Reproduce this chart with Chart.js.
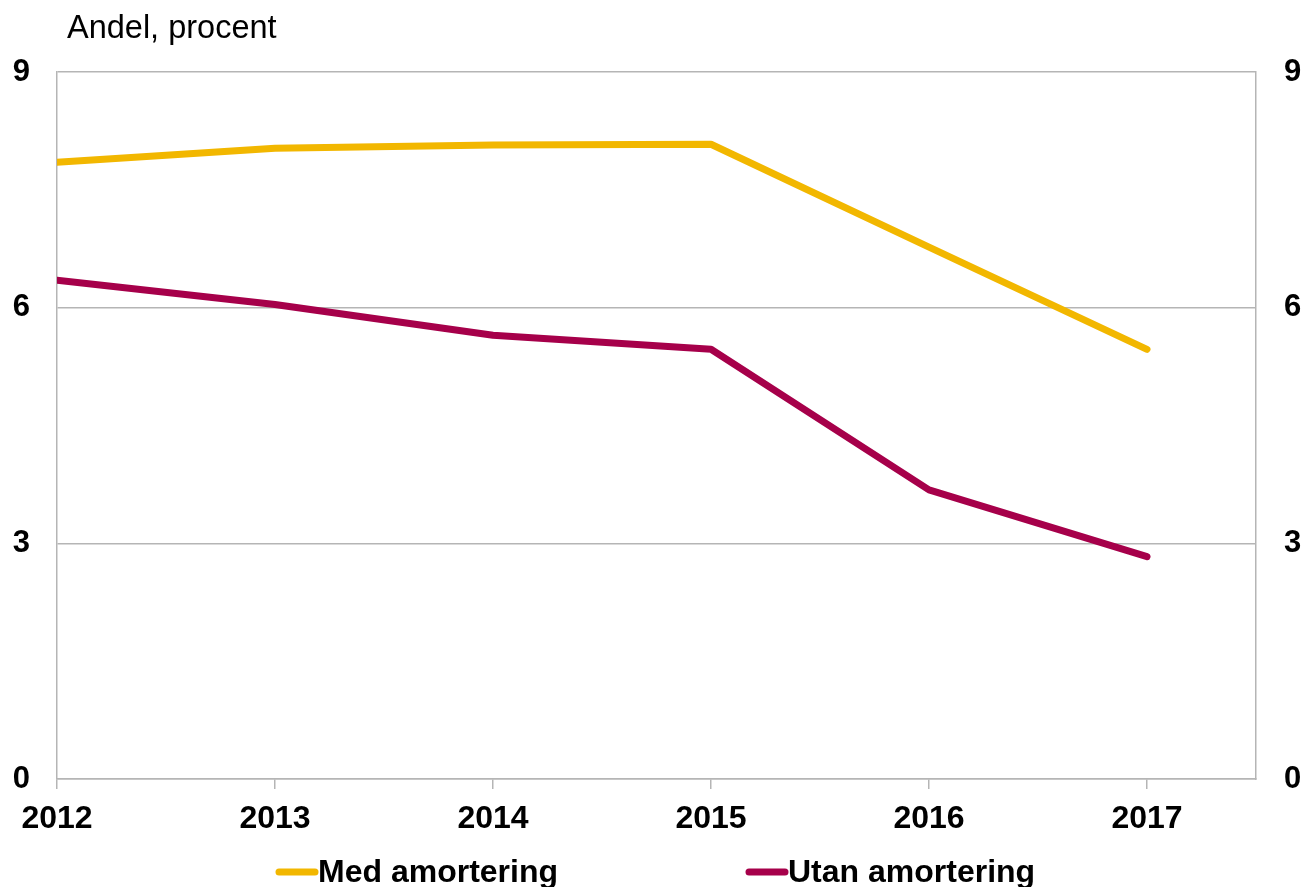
<!DOCTYPE html>
<html>
<head>
<meta charset="utf-8">
<script src="https://cdn.jsdelivr.net/npm/chart.js@4"></script>
<style>
html,body{margin:0;padding:0;background:#fff;}
#wrap{width:1305px;height:887px;position:relative;}
</style>
</head>
<body>
<div id="wrap"><canvas id="c" width="1305" height="887"></canvas></div>
<script>
const years = [2012, 2013, 2014, 2015, 2016, 2017];
const medAmortering = [7.85, 8.03, 8.07, 8.08, 6.77, 5.47];
const utanAmortering = [6.35, 6.04, 5.65, 5.47, 3.68, 2.83];
const yTicks = [0, 3, 6, 9];
const seriesLabels = ['Med amortering', 'Utan amortering'];
const titleText = 'Andel, procent';

const YELLOW = '#F2B700';
const MAROON = '#A6004A';
const GRID = '#b5b5b5';
const FONT = '"Liberation Sans", Arial, sans-serif';

const toPts = (vals) => years.map((y, i) => ({x: y, y: vals[i]}));

const overlay = {
  id: 'overlay',
  afterDraw(chart) {
    const ctx = chart.ctx;
    ctx.save();
    ctx.fillStyle = '#000';
    ctx.font = '32.5px ' + FONT;
    ctx.textBaseline = 'alphabetic';
    ctx.textAlign = 'left';
    ctx.fillText(titleText, 67, 38);
    // legend
    const items = [
      {x: 277, color: YELLOW, label: chart.data.datasets[0].label},
      {x: 747, color: MAROON, label: chart.data.datasets[1].label}
    ];
    const ly = 872;
    items.forEach(it => {
      ctx.strokeStyle = it.color;
      ctx.lineWidth = 7;
      ctx.lineCap = 'round';
      ctx.beginPath();
      ctx.moveTo(it.x + 2, ly);
      ctx.lineTo(it.x + 38, ly);
      ctx.stroke();
      ctx.fillStyle = '#000';
      ctx.font = 'bold 32px ' + FONT;
      ctx.textBaseline = 'middle';
      ctx.fillText(it.label, it.x + 41, ly + 1);
    });
    ctx.restore();
  }
};

new Chart(document.getElementById('c'), {
  type: 'line',
  data: {
    datasets: [
      {label: seriesLabels[0], data: toPts(medAmortering), borderColor: YELLOW, backgroundColor: YELLOW,
       borderWidth: 7, pointRadius: 0, tension: 0, borderCapStyle: 'round', borderJoinStyle: 'round', yAxisID: 'y'},
      {label: seriesLabels[1], data: toPts(utanAmortering), borderColor: MAROON, backgroundColor: MAROON,
       borderWidth: 7, pointRadius: 0, tension: 0, borderCapStyle: 'round', borderJoinStyle: 'round', yAxisID: 'y'}
    ]
  },
  options: {
    responsive: false,
    animation: false,
    devicePixelRatio: 1,
    layout: {padding: {top: 72, left: 0, right: 0, bottom: 0}},
    plugins: {legend: {display: false}, title: {display: false}, tooltip: {enabled: false}},
    scales: {
      x: {
        type: 'linear', min: 2012, max: 2017.5,
        afterBuildTicks: (s) => { s.ticks = years.map(v => ({value: v})); },
        afterFit: (s) => { s.height = 108; },
        grid: {drawOnChartArea: false, drawTicks: true, tickLength: 10, color: GRID, lineWidth: 1.5},
        border: {display: true, color: GRID, width: 1.5},
        ticks: {color: '#000', font: {family: FONT, size: 32, weight: 'bold'}, padding: 11, maxRotation: 0,
                callback: (v) => String(v)}
      },
      y: {
        position: 'left', min: 0, max: 9,
        afterBuildTicks: (s) => { s.ticks = yTicks.map(v => ({value: v})); },
        afterFit: (s) => { s.width = 57; },
        grid: {drawTicks: false, color: GRID, lineWidth: 1.5},
        border: {display: true, color: GRID, width: 1.5},
        ticks: {color: '#000', font: {family: FONT, size: 31, weight: 'bold'}, padding: 27}
      },
      y2: {
        position: 'right', min: 0, max: 9,
        afterBuildTicks: (s) => { s.ticks = yTicks.map(v => ({value: v})); },
        afterFit: (s) => { s.width = 49; },
        grid: {drawOnChartArea: false, drawTicks: false},
        border: {display: true, color: GRID, width: 1.5},
        ticks: {color: '#000', font: {family: FONT, size: 31, weight: 'bold'}, padding: 28}
      }
    }
  },
  plugins: [overlay]
});
</script>
</body>
</html>
